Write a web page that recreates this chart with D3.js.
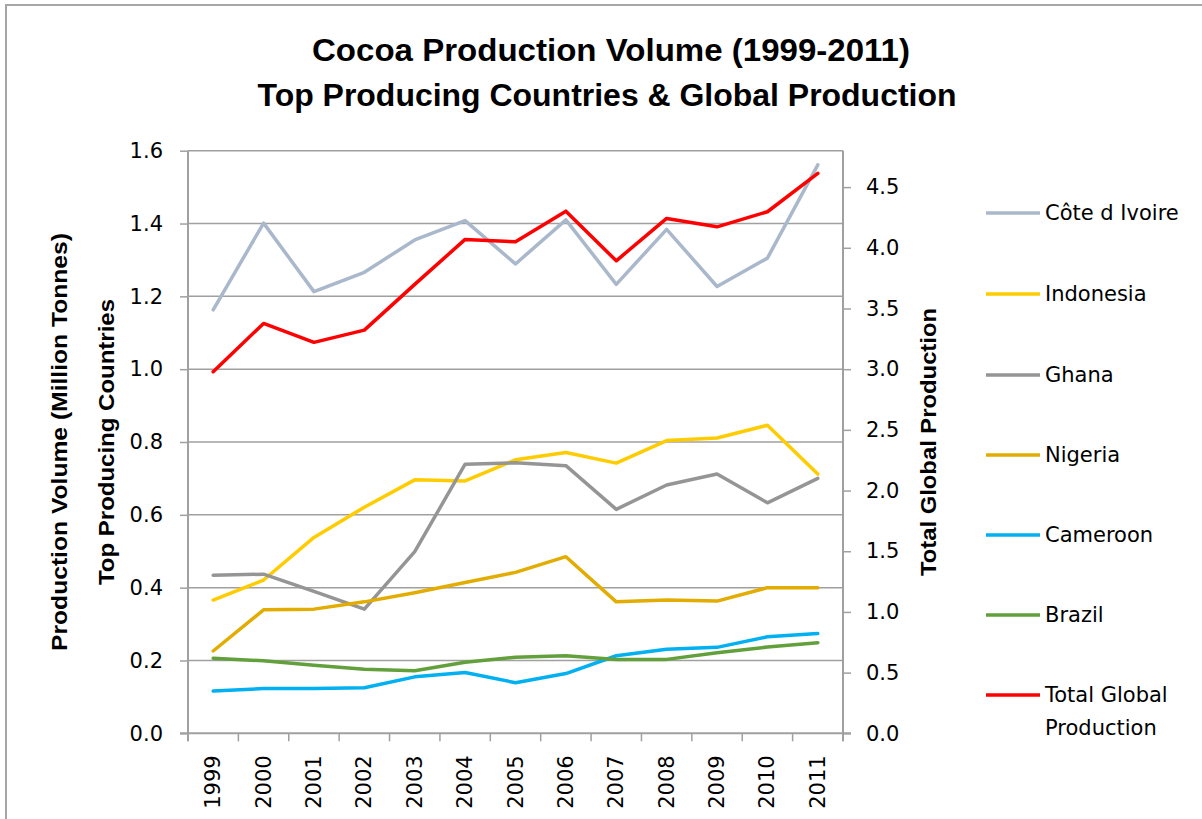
<!DOCTYPE html>
<html>
<head>
<meta charset="utf-8">
<script src="https://cdn.jsdelivr.net/npm/d3@7/dist/d3.min.js"></script>
<style>
  html, body { margin: 0; padding: 0; background: #fff; }
  svg { display: block; }
  .tick text { font-family: "DejaVu Sans", sans-serif; font-size: 21px; fill: #000; }
</style>
</head>
<body>
<svg id="chart" width="1202" height="819"></svg>
<script>
// Cocoa production, million tonnes
const years = ["1999","2000","2001","2002","2003","2004","2005","2006","2007","2008","2009","2010","2011"];

const coteDIvoire = [1.163, 1.401, 1.213, 1.266, 1.355, 1.408, 1.289, 1.410, 1.233, 1.384, 1.227, 1.305, 1.561];
const indonesia   = [0.366, 0.421, 0.538, 0.621, 0.696, 0.693, 0.751, 0.771, 0.742, 0.804, 0.811, 0.846, 0.712];
const ghana       = [0.434, 0.437, 0.390, 0.341, 0.499, 0.739, 0.743, 0.735, 0.615, 0.682, 0.712, 0.633, 0.700];
const nigeria     = [0.226, 0.339, 0.341, 0.361, 0.386, 0.414, 0.442, 0.485, 0.361, 0.366, 0.363, 0.400, 0.400];
const cameroon    = [0.116, 0.123, 0.123, 0.125, 0.155, 0.167, 0.139, 0.164, 0.213, 0.231, 0.236, 0.265, 0.274];
const brazil      = [0.206, 0.199, 0.187, 0.176, 0.172, 0.195, 0.209, 0.213, 0.203, 0.203, 0.221, 0.237, 0.249];
const totalGlobal = [2.979, 3.377, 3.221, 3.322, 3.699, 4.069, 4.050, 4.302, 3.893, 4.242, 4.173, 4.297, 4.613];

const leftTicks  = [0, 0.2, 0.4, 0.6, 0.8, 1.0, 1.2, 1.4, 1.6];
const rightTicks = [0, 0.5, 1.0, 1.5, 2.0, 2.5, 3.0, 3.5, 4.0, 4.5];

const seriesNames  = ["Côte d Ivoire", "Indonesia", "Ghana", "Nigeria", "Cameroon", "Brazil", "Total Global Production"];
const seriesColors = ["#A9B8CB", "#FFCC00", "#959595", "#E2AC00", "#00B0F0", "#62A03B", "#FF0000"];

const series = [
  { name: seriesNames[0], values: coteDIvoire, axis: "left",  color: seriesColors[0] },
  { name: seriesNames[1], values: indonesia,   axis: "left",  color: seriesColors[1] },
  { name: seriesNames[2], values: ghana,       axis: "left",  color: seriesColors[2] },
  { name: seriesNames[3], values: nigeria,     axis: "left",  color: seriesColors[3] },
  { name: seriesNames[4], values: cameroon,    axis: "left",  color: seriesColors[4] },
  { name: seriesNames[5], values: brazil,      axis: "left",  color: seriesColors[5] },
  { name: seriesNames[6], values: totalGlobal, axis: "right", color: seriesColors[6] }
];

const svg = d3.select("#chart");
const plot = { left: 188, right: 843, top: 150.7, bottom: 733.3 };
const gridColor = "#A0A0A0";

// outer frame
svg.append("rect")
  .attr("x", 6).attr("y", 5).attr("width", 1400).attr("height", 1000)
  .attr("fill", "none").attr("stroke", "#A6A6A6").attr("stroke-width", 2);

const x = d3.scaleBand().domain(years).range([plot.left, plot.right]).padding(0);
const yL = d3.scaleLinear().domain([0, 1.6]).range([plot.bottom, plot.top]);
const yR = d3.scaleLinear().domain([0, 4.8]).range([plot.bottom, plot.top]);
const cx = d => x(d) + x.bandwidth() / 2;

// horizontal gridlines
svg.append("g").selectAll("line").data(leftTicks.slice(1)).join("line")
  .attr("x1", plot.left).attr("x2", plot.right)
  .attr("y1", d => yL(d)).attr("y2", d => yL(d))
  .attr("stroke", gridColor).attr("stroke-width", 1.5);

// left axis
const gL = svg.append("g").attr("transform", `translate(${plot.left},0)`)
  .call(d3.axisLeft(yL).tickValues(leftTicks).tickFormat(d3.format(".1f")).tickSize(8).tickPadding(17));
gL.select(".domain").attr("stroke", gridColor).attr("stroke-width", 2).attr("d", `M0,${plot.top}V${plot.bottom + 8}`);
gL.selectAll(".tick line").attr("stroke", gridColor).attr("stroke-width", 1.5);

// right axis
const gR = svg.append("g").attr("transform", `translate(${plot.right},0)`)
  .call(d3.axisRight(yR).tickValues(rightTicks).tickFormat(d3.format(".1f")).tickSize(8).tickPadding(15));
gR.select(".domain").attr("stroke", gridColor).attr("stroke-width", 2).attr("d", `M0,${plot.top}V${plot.bottom + 8}`);
gR.selectAll(".tick line").attr("stroke", gridColor).attr("stroke-width", 1.5);

// bottom axis: labels centred in each category, ticks on category boundaries
const gB = svg.append("g").attr("transform", `translate(0,${plot.bottom})`)
  .call(d3.axisBottom(x).tickSize(0).tickPadding(0));
gB.select(".domain").attr("stroke", gridColor).attr("stroke-width", 2).attr("d", `M${plot.left - 8},0H${plot.right + 8}`);
gB.selectAll(".tick text")
  .attr("y", null).attr("dy", null)
  .attr("transform", "translate(0,22) rotate(-90)")
  .attr("text-anchor", "end")
  .attr("dominant-baseline", "central");
const boundaries = years.map(d => x(d)).concat([plot.right]);
gB.append("g").selectAll("line").data(boundaries).join("line")
  .attr("x1", d => d).attr("x2", d => d).attr("y1", 0).attr("y2", 8)
  .attr("stroke", gridColor).attr("stroke-width", 1.5);

// series lines
const lineFor = s => d3.line()
  .x((v, i) => cx(years[i]))
  .y(v => (s.axis === "left" ? yL(v) : yR(v)));

svg.append("g").selectAll("path").data(series).join("path")
  .attr("d", s => lineFor(s)(s.values))
  .attr("fill", "none")
  .attr("stroke", s => s.color)
  .attr("stroke-width", 3.5)
  .attr("stroke-linejoin", "round")
  .attr("stroke-linecap", "round");

// titles
const titleFont = '"Liberation Sans Narrow", "Liberation Sans", sans-serif';
svg.append("text").attr("x", 611).attr("y", 61).attr("text-anchor", "middle")
  .attr("font-family", titleFont).attr("font-weight", "bold").attr("font-size", 31)
  .attr("textLength", 598).attr("lengthAdjust", "spacingAndGlyphs")
  .text("Cocoa Production Volume (1999-2011)");
svg.append("text").attr("x", 607).attr("y", 106).attr("text-anchor", "middle")
  .attr("font-family", titleFont).attr("font-weight", "bold").attr("font-size", 31)
  .attr("textLength", 699).attr("lengthAdjust", "spacingAndGlyphs")
  .text("Top Producing Countries & Global Production");

// axis titles
const midY = (plot.top + plot.bottom) / 2;
function axisTitle(xPos, txt, len) {
  svg.append("text")
    .attr("transform", `translate(${xPos},${midY}) rotate(-90)`)
    .attr("text-anchor", "middle").attr("dominant-baseline", "central")
    .attr("font-family", titleFont).attr("font-weight", "bold").attr("font-size", 22)
    .attr("textLength", len).attr("lengthAdjust", "spacingAndGlyphs")
    .text(txt);
}
axisTitle(59, "Production Volume (Million Tonnes)", 418);
axisTitle(106, "Top Producing Countries", 286);
axisTitle(928, "Total  Global Production", 268);

// legend
const legendY = [213, 294, 375, 455, 535, 615, 695];
const lg = svg.append("g");
series.forEach((s, i) => {
  lg.append("line")
    .attr("x1", 986).attr("x2", 1040).attr("y1", legendY[i]).attr("y2", legendY[i])
    .attr("stroke", s.color).attr("stroke-width", 3.5);
  const t = lg.append("text")
    .attr("x", 1045).attr("y", legendY[i])
    .attr("font-family", '"DejaVu Sans", sans-serif').attr("font-size", 21)
    .attr("dominant-baseline", "central").attr("fill", "#000");
  if (s.name === "Total Global Production") {
    t.append("tspan").attr("x", 1045).text("Total Global");
    t.append("tspan").attr("x", 1045).attr("dy", 33).text("Production");
  } else {
    t.text(s.name);
  }
});
</script>
</body>
</html>
